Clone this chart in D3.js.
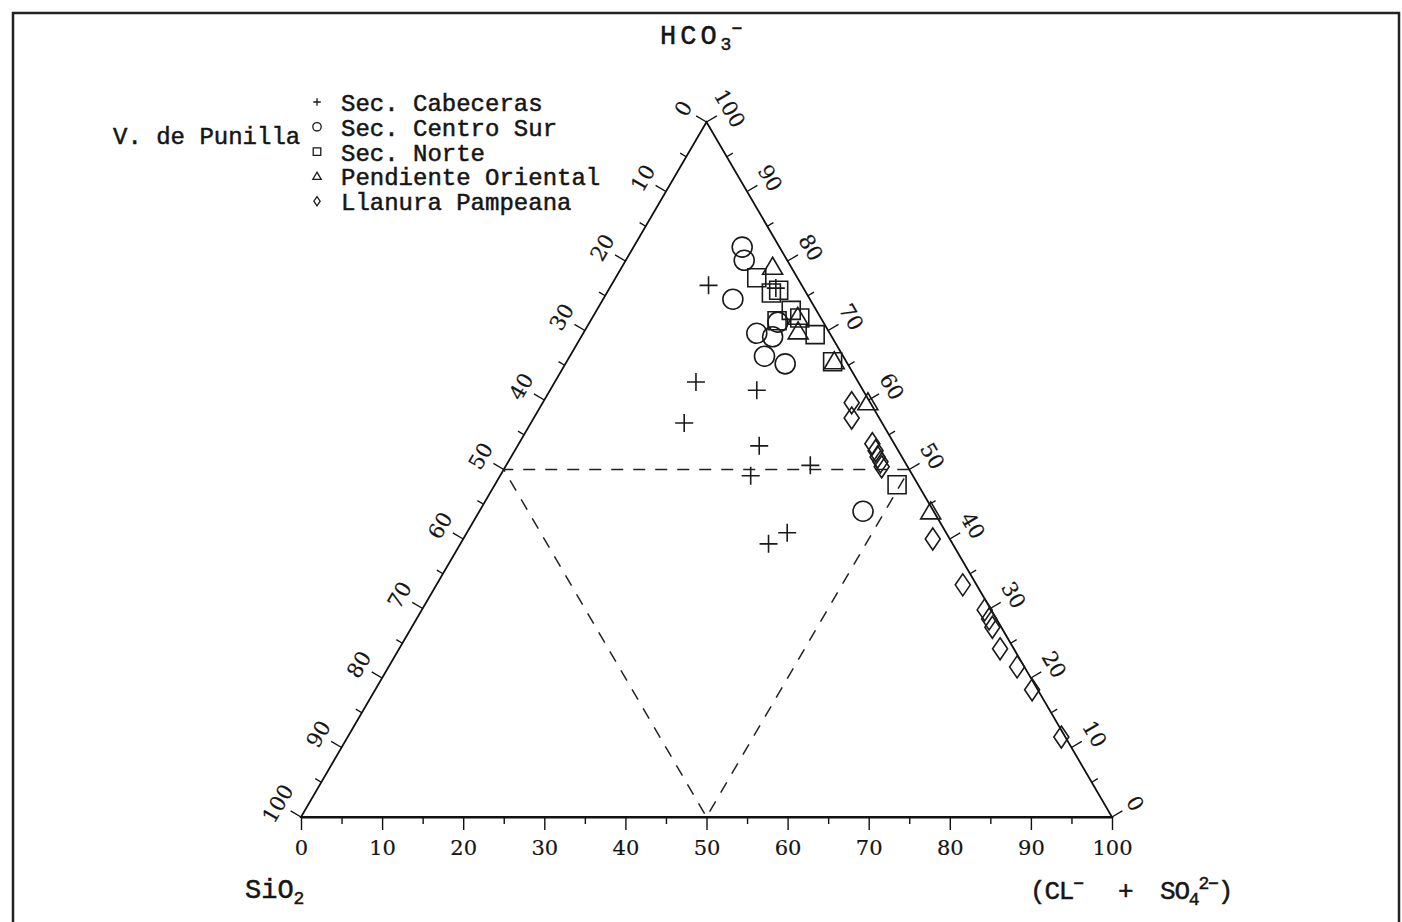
<!DOCTYPE html>
<html>
<head>
<meta charset="utf-8">
<script src="https://cdn.jsdelivr.net/npm/d3@7"></script>
<style>
  body { margin: 0; background: #fff; }
  svg { display: block; }
  text { font-family: "Liberation Mono", monospace; fill: #151515; stroke: #151515; stroke-width: 0.5px; }
  .num { font-family: "DejaVu Serif", serif; stroke-width: 0.2px; }
</style>
</head>
<body>
<svg width="1402" height="922"></svg>
<script>
let width = 1402;
let height = 922;

// legenda
const groupNames = ["Sec. Cabeceras", "Sec. Centro Sur", "Sec. Norte", "Pendiente Oriental", "Llanura Pampeana"];
const groupSymbols = ["cross", "circle", "square", "triangle", "diamond"];

// % HCO3- e % (Cl- + SO4 2-) de cada amostra (SiO2 = 100 - soma)
const cabecerasHCO3  = [76.5, 62.6, 61.4, 56.7, 53.4, 49.1, 50.6, 40.9, 39.3, 76.1];
const cabecerasClSO4 = [12.0, 17.4, 25.5, 18.9, 29.8, 30.9, 37.5, 39.5, 38.0, 20.5];

const centroSurHCO3  = [82.0, 80.1, 74.5, 69.6, 69.1, 66.3, 65.2, 44.0, 71.2];
const centroSurClSO4 = [13.4, 14.6, 16.0, 21.4, 23.6, 24.0, 27.1, 47.3, 23.2];

const norteHCO3  = [77.6, 75.4, 75.8, 72.9, 71.4, 71.8, 69.4, 65.5, 47.8];
const norteClSO4 = [17.4, 20.3, 21.0, 24.0, 23.0, 25.6, 28.7, 32.8, 49.6];

const orientalHCO3  = [79.1, 71.9, 69.8, 65.5, 59.6, 43.9];
const orientalClSO4 = [18.6, 25.3, 26.4, 33.0, 40.1, 55.7];

const pampeanaHCO3  = [59.6, 57.4, 53.7, 52.7, 51.8, 51.1, 50.4, 40.0, 33.4, 29.8, 28.5, 27.3, 24.2, 21.6, 18.3, 11.5];
const pampeanaClSO4 = [38.1, 39.2, 43.6, 44.5, 45.2, 45.9, 46.4, 57.9, 64.9, 69.4, 70.6, 71.6, 74.1, 77.5, 81.0, 88.0];

const majorTicks = d3.range(0, 101, 10);
const minorTicks = d3.range(5, 100, 10);
const midLine = 50;

let svg = d3.select("svg");

// escalas: x ao longo da base, y = altura (HCO3)
let xScale = d3.scaleLinear().domain([0, 100]).range([301, 1112]);
let yScale = d3.scaleLinear().domain([0, 100]).range([817, 122]);

function tern(clso4, hco3) {
  return [xScale(clso4 + hco3 / 2), yScale(hco3)];
}

// quadro
svg.append("rect")
  .attr("x", 13).attr("y", 13)
  .attr("width", 1386).attr("height", 925)
  .attr("fill", "none").attr("stroke", "#222").attr("stroke-width", 2.5);

drawTriangle();
drawDashed();
drawSideTicks();
drawBottomAxis();
drawTitles();
drawPoints();
drawLegend();

function drawTriangle() {
  let corners = [tern(0, 0), tern(100, 0), tern(0, 100)];
  svg.append("path")
    .attr("d", "M" + corners.join("L") + "Z")
    .attr("fill", "none")
    .attr("stroke", "#111")
    .attr("stroke-width", 1.8);
}

function drawDashed() {
  let a = tern(0, midLine), b = tern(midLine, midLine), c = tern(midLine, 0);
  svg.append("path")
    .attr("d", "M" + b + "L" + a + "L" + c + "L" + b)
    .attr("fill", "none")
    .attr("stroke", "#222")
    .attr("stroke-width", 1.5)
    .attr("stroke-dasharray", "12,10");
}

function drawBottomAxis() {
  let g = svg.append("g").attr("transform", "translate(0," + yScale(0) + ")");
  g.call(d3.axisBottom(xScale).tickValues(majorTicks).tickSize(13).tickSizeOuter(0).tickPadding(10));
  let gm = svg.append("g").attr("transform", "translate(0," + yScale(0) + ")");
  gm.call(d3.axisBottom(xScale).tickValues(minorTicks).tickSize(7).tickSizeOuter(0).tickFormat(""));
  gm.select(".domain").remove();
  svg.selectAll(".tick line").attr("stroke", "#111").attr("stroke-width", 1.4);
  svg.selectAll(".domain").attr("stroke", "#111").attr("stroke-width", 1.8);
  g.selectAll("text")
    .attr("class", "num")
    .attr("font-family", null)
    .attr("font-size", 21)
    .attr("fill", "#151515");
}

function drawSideTicks() {
  // lado esquerdo: SiO2 (0 no topo, 100 embaixo); lado direito: HCO3
  let L = tern(0, 0), R = tern(100, 0), T = tern(0, 100);
  let nl = norm([T[1] - L[1], -(T[0] - L[0])]); // normal para fora
  let nr = norm([-(T[1] - R[1]), T[0] - R[0]]);
  let angL = Math.atan2(T[1] - L[1], T[0] - L[0]) * 180 / Math.PI;
  let angR = Math.atan2(R[1] - T[1], R[0] - T[0]) * 180 / Math.PI;

  let leftPos = s => tern(0, 100 - s);
  let rightPos = h => tern(100 - h, h);

  let sides = [
    { pos: leftPos, n: nl, ang: angL },
    { pos: rightPos, n: nr, ang: angR }
  ];

  sides.forEach(function (side) {
    let all = majorTicks.map(v => [v, 12]).concat(minorTicks.map(v => [v, 7]));
    svg.append("g").selectAll("line")
      .data(all)
      .enter()
      .append("line")
      .attr("x1", d => side.pos(d[0])[0])
      .attr("y1", d => side.pos(d[0])[1])
      .attr("x2", d => side.pos(d[0])[0] + side.n[0] * d[1])
      .attr("y2", d => side.pos(d[0])[1] + side.n[1] * d[1])
      .attr("stroke", "#111")
      .attr("stroke-width", 1.4);

    svg.append("g").selectAll("text")
      .data(majorTicks)
      .enter()
      .append("text")
      .attr("class", "num")
      .attr("transform", function (d) {
        let p = side.pos(d);
        let x = p[0] + side.n[0] * 27, y = p[1] + side.n[1] * 27;
        return "translate(" + x + "," + y + ") rotate(" + side.ang + ")";
      })
      .attr("text-anchor", "middle")
      .attr("dy", "0.36em")
      .attr("font-size", 21)
      .text(d => d);
  });
}

function norm(v) {
  let l = Math.hypot(v[0], v[1]);
  return [v[0] / l, v[1] / l];
}

function drawTitles() {
  let t = svg.append("text").attr("x", 660).attr("y", 44).attr("font-size", 27).attr("letter-spacing", 4);
  t.append("tspan").text("HCO");
  t.append("tspan").attr("font-size", 18).attr("dy", 6).attr("letter-spacing", 0).text("3");
  t.append("tspan").attr("font-size", 18).attr("dy", -16).attr("letter-spacing", 0).text("\u2212");

  let s = svg.append("text").attr("x", 245).attr("y", 898).attr("font-size", 27).attr("letter-spacing", 0);
  s.append("tspan").text("SiO");
  s.append("tspan").attr("font-size", 18).attr("dy", 6).text("2");

  let c = svg.append("text").attr("y", 899).attr("font-size", 26).attr("letter-spacing", -1.2);
  c.append("tspan").attr("x", 1030).text("(CL");
  c.append("tspan").attr("font-size", 18).attr("dy", -10).text("\u2212");
  c.append("tspan").attr("x", 1118).attr("dy", 10).text("+");
  c.append("tspan").attr("x", 1160).text("SO");
  c.append("tspan").attr("font-size", 18).attr("dy", 6).text("4");
  c.append("tspan").attr("font-size", 18).attr("dy", -16).text("2\u2212");
  c.append("tspan").attr("dy", 10).text(")");
}

function symbolPath(type, k) {
  if (type === "cross") return "M" + (-9 * k) + ",0H" + (9 * k) + "M0," + (-9 * k) + "V" + (9 * k);
  if (type === "circle") {
    let r = 10 * k;
    return "M" + (-r) + ",0A" + r + "," + r + " 0 1,0 " + r + ",0A" + r + "," + r + " 0 1,0 " + (-r) + ",0Z";
  }
  if (type === "square") return "M" + (-9 * k) + "," + (-9 * k) + "h" + (18 * k) + "v" + (18 * k) + "h" + (-18 * k) + "Z";
  if (type === "triangle") return "M0," + (-10 * k) + "L" + (10 * k) + "," + (7 * k) + "L" + (-10 * k) + "," + (7 * k) + "Z";
  if (type === "diamond") return "M0," + (-11 * k) + "L" + (7.5 * k) + ",0L0," + (11 * k) + "L" + (-7.5 * k) + ",0Z";
}

function drawPoints() {
  let groups = [
    [cabecerasClSO4, cabecerasHCO3],
    [centroSurClSO4, centroSurHCO3],
    [norteClSO4, norteHCO3],
    [orientalClSO4, orientalHCO3],
    [pampeanaClSO4, pampeanaHCO3]
  ];
  groups.forEach(function (g, i) {
    let pts = g[0].map((c, j) => tern(c, g[1][j]));
    svg.append("g").selectAll("path")
      .data(pts)
      .enter()
      .append("path")
      .attr("transform", d => "translate(" + d[0] + "," + d[1] + ")")
      .attr("d", symbolPath(groupSymbols[i], 1))
      .attr("fill", "none")
      .attr("stroke", "#1a1a1a")
      .attr("stroke-width", 1.6);
  });
}

function drawLegend() {
  svg.append("text")
    .attr("x", 113).attr("y", 144)
    .attr("font-size", 24).attr("letter-spacing", 0)
    .text("V. de Punilla");

  let rows = svg.append("g").selectAll("g")
    .data(groupNames)
    .enter()
    .append("g")
    .attr("transform", (d, i) => "translate(0," + (111 + i * 24.8) + ")");

  rows.append("path")
    .attr("transform", "translate(317,-9)")
    .attr("d", (d, i) => symbolPath(groupSymbols[i], 0.42))
    .attr("fill", "none")
    .attr("stroke", "#1a1a1a")
    .attr("stroke-width", 1.3);

  rows.append("text")
    .attr("x", 341)
    .attr("font-size", 24)
    .attr("letter-spacing", 0)
    .text(d => d);
}
</script>
</body>
</html>
